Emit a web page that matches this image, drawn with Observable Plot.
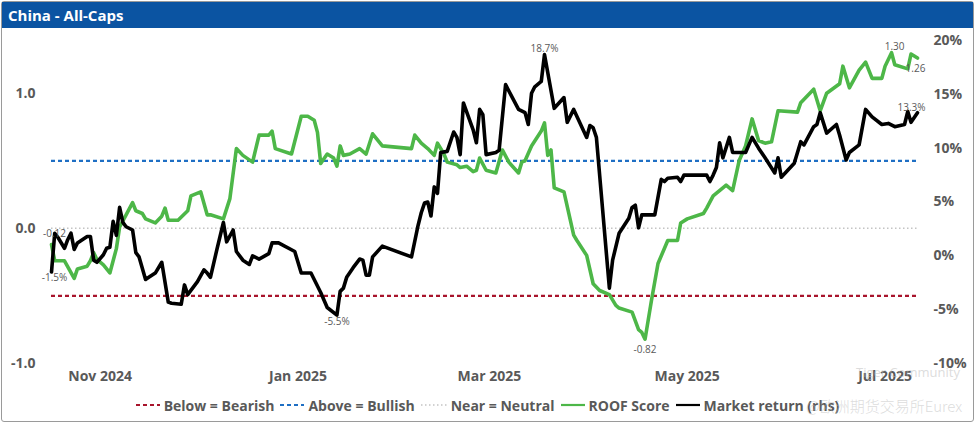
<!DOCTYPE html>
<html>
<head>
<meta charset="utf-8">
<script src="https://cdn.jsdelivr.net/npm/d3@7"></script>
<script src="https://cdn.jsdelivr.net/npm/@observablehq/plot@0.6"></script>
<style>
html,body{margin:0;padding:0;background:#fff;}
body{width:975px;height:424px;position:relative;overflow:hidden;font-family:"Open Sans",sans-serif;}
#frame{position:absolute;left:1px;top:1px;width:973px;height:421px;box-sizing:border-box;border:1.5px solid #9a9a9a;border-radius:3px;}
#title{position:absolute;left:2px;top:2px;width:971px;height:26px;background:#0b54a2;color:#fff;font-weight:700;font-size:15px;line-height:26px;padding-left:6px;box-sizing:border-box;}
#chart{position:absolute;left:0;top:28px;}
#legend{position:absolute;left:0;top:394px;width:975px;height:22px;display:flex;justify-content:center;align-items:center;font-weight:700;font-size:14px;color:#595959;white-space:nowrap;}
#legend .item{display:flex;align-items:center;margin:0 3px;}
#legend svg{margin-right:4px;}
.wm{position:absolute;color:rgba(185,185,185,0.5);white-space:nowrap;}
</style>
</head>
<body>
<div id="frame"></div>
<div id="title">China - All-Caps</div>
<div id="chart"></div>
<div id="legend"></div>
<div class="wm" style="left:856px;top:363px;font-size:13px;">Tiger Community</div>
<div class="wm" style="left:806px;top:395px;font-size:15px;font-family:'Noto Sans CJK SC',sans-serif;font-weight:300;">@欧洲期货交易所Eurex</div>
<script>
// ---- data ----
const roof = [
["2024-10-17",-0.12],["2024-10-18",-0.24],["2024-10-21",-0.24],["2024-10-24",-0.37],["2024-10-25",-0.30],
["2024-10-28",-0.28],["2024-10-29",-0.24],["2024-10-30",-0.18],["2024-10-31",-0.23],["2024-11-02",-0.27],
["2024-11-04",-0.33],["2024-11-06",-0.15],["2024-11-07",0.01],["2024-11-09",0.10],["2024-11-11",0.19],
["2024-11-12",0.13],["2024-11-14",0.11],["2024-11-15",0.07],["2024-11-18",0.04],["2024-11-20",0.09],
["2024-11-21",0.15],["2024-11-22",0.06],["2024-11-25",0.06],["2024-11-28",0.13],["2024-11-29",0.24],
["2024-12-02",0.27],["2024-12-04",0.10],["2024-12-05",0.10],["2024-12-09",0.07],["2024-12-11",0.22],
["2024-12-13",0.59],["2024-12-15",0.54],["2024-12-18",0.49],["2024-12-20",0.69],["2024-12-23",0.69],
["2024-12-24",0.72],["2024-12-25",0.59],["2024-12-30",0.55],["2025-01-02",0.83],["2025-01-04",0.83],
["2025-01-06",0.80],["2025-01-07",0.71],["2025-01-08",0.48],["2025-01-10",0.55],["2025-01-12",0.52],
["2025-01-13",0.46],["2025-01-14",0.61],["2025-01-15",0.54],["2025-01-17",0.55],["2025-01-20",0.59],
["2025-01-22",0.55],["2025-01-24",0.70],["2025-01-27",0.61],["2025-02-05",0.59],["2025-02-06",0.69],
["2025-02-08",0.63],["2025-02-10",0.59],["2025-02-12",0.54],["2025-02-13",0.63],["2025-02-15",0.55],
["2025-02-16",0.49],["2025-02-19",0.47],["2025-02-20",0.45],["2025-02-22",0.46],["2025-02-24",0.42],
["2025-02-25",0.43],["2025-02-26",0.52],["2025-02-28",0.43],["2025-03-03",0.41],["2025-03-05",0.58],
["2025-03-07",0.49],["2025-03-10",0.41],["2025-03-11",0.49],["2025-03-12",0.50],["2025-03-14",0.61],
["2025-03-17",0.72],["2025-03-18",0.78],["2025-03-19",0.54],["2025-03-20",0.58],["2025-03-21",0.30],
["2025-03-24",0.27],["2025-03-27",-0.05],["2025-03-28",-0.09],["2025-03-31",-0.20],["2025-04-02",-0.41],
["2025-04-04",-0.46],["2025-04-07",-0.49],["2025-04-09",-0.57],["2025-04-10",-0.59],["2025-04-14",-0.62],
["2025-04-16",-0.75],["2025-04-17",-0.77],["2025-04-18",-0.82],["2025-04-20",-0.53],["2025-04-22",-0.26],
["2025-04-25",-0.09],["2025-04-28",-0.09],["2025-04-29",0.04],["2025-05-01",0.07],["2025-05-06",0.11],
["2025-05-07",0.15],["2025-05-09",0.24],["2025-05-12",0.30],["2025-05-13",0.32],["2025-05-15",0.28],
["2025-05-17",0.50],["2025-05-19",0.61],["2025-05-21",0.81],["2025-05-23",0.65],["2025-05-25",0.63],
["2025-05-27",0.64],["2025-05-29",0.87],["2025-06-04",0.86],["2025-06-05",0.93],["2025-06-09",1.03],
["2025-06-11",0.87],["2025-06-13",1.00],["2025-06-17",1.07],["2025-06-18",1.20],["2025-06-20",1.04],
["2025-06-23",1.17],["2025-06-25",1.23],["2025-06-27",1.11],["2025-06-30",1.11],["2025-07-01",1.20],
["2025-07-03",1.30],["2025-07-04",1.21],["2025-07-08",1.18],["2025-07-09",1.29],["2025-07-11",1.26]
];

const marketReturn = [
["2024-10-17",-1.5],["2024-10-18",2.1],["2024-10-19",1.7],["2024-10-21",0.7],["2024-10-22",1.5],
["2024-10-23",2.1],["2024-10-24",0.6],["2024-10-25",1.2],["2024-10-28",1.8],["2024-10-29",1.8],
["2024-10-30",-0.4],["2024-10-31",-0.6],["2024-11-02",0.1],["2024-11-03",0.7],["2024-11-04",0.8],
["2024-11-05",3.2],["2024-11-06",1.9],["2024-11-07",4.5],["2024-11-08",3.1],["2024-11-09",2.7],
["2024-11-11",2.4],["2024-11-12",0.3],["2024-11-13",-0.1],["2024-11-15",-2.2],["2024-11-16",-2.0],
["2024-11-18",-1.6],["2024-11-20",-0.6],["2024-11-22",-4.3],["2024-11-23",-4.4],["2024-11-26",-4.5],
["2024-11-27",-2.7],["2024-11-28",-3.6],["2024-12-01",-2.4],["2024-12-03",-1.3],["2024-12-04",-1.6],
["2024-12-05",-2.0],["2024-12-07",0.6],["2024-12-09",3.1],["2024-12-10",1.3],["2024-12-12",2.4],
["2024-12-13",0.4],["2024-12-15",-0.4],["2024-12-17",-0.8],["2024-12-18",0.0],["2024-12-20",-0.3],
["2024-12-23",0.2],["2024-12-24",1.2],["2024-12-26",1.2],["2024-12-31",0.4],["2025-01-02",-1.6],
["2025-01-05",-1.6],["2025-01-08",-3.4],["2025-01-10",-4.8],["2025-01-13",-5.5],["2025-01-14",-3.3],
["2025-01-15",-3.0],["2025-01-16",-2.0],["2025-01-18",-1.1],["2025-01-20",-0.3],["2025-01-21",-0.4],
["2025-01-22",-1.8],["2025-01-23",-1.8],["2025-01-24",-0.1],["2025-01-27",0.9],["2025-02-05",-0.1],
["2025-02-07",2.8],["2025-02-08",4.0],["2025-02-09",4.9],["2025-02-10",5.0],["2025-02-11",3.7],
["2025-02-12",6.4],["2025-02-13",5.8],["2025-02-14",9.6],["2025-02-16",9.7],["2025-02-18",11.5],
["2025-02-19",11.0],["2025-02-20",9.4],["2025-02-21",14.2],["2025-02-24",11.7],["2025-02-25",10.5],
["2025-02-26",13.6],["2025-02-27",13.1],["2025-02-28",9.4],["2025-03-03",9.6],["2025-03-04",9.8],
["2025-03-06",15.9],["2025-03-10",13.6],["2025-03-12",13.3],["2025-03-13",12.2],["2025-03-14",15.1],
["2025-03-15",15.7],["2025-03-17",16.2],["2025-03-18",18.7],["2025-03-21",13.7],["2025-03-24",14.7],
["2025-03-25",12.4],["2025-03-27",13.6],["2025-03-31",11.0],["2025-04-01",12.1],["2025-04-02",11.9],
["2025-04-03",11.0],["2025-04-07",-3.0],["2025-04-08",-0.4],["2025-04-10",2.1],["2025-04-13",3.5],
["2025-04-14",4.5],["2025-04-15",4.7],["2025-04-16",2.6],["2025-04-17",3.8],["2025-04-21",3.8],
["2025-04-23",7.1],["2025-04-24",6.9],["2025-04-25",7.2],["2025-04-28",7.3],["2025-04-29",6.9],
["2025-04-30",7.5],["2025-05-07",7.5],["2025-05-08",6.9],["2025-05-09",7.5],["2025-05-10",8.2],
["2025-05-11",10.5],["2025-05-12",9.1],["2025-05-14",11.0],["2025-05-15",9.6],["2025-05-19",9.6],
["2025-05-21",11.0],["2025-05-23",10.0],["2025-05-25",9.1],["2025-05-28",7.7],["2025-05-29",9.1],
["2025-05-30",7.3],["2025-06-03",8.6],["2025-06-05",10.6],["2025-06-06",10.3],["2025-06-09",12.0],
["2025-06-10",12.2],["2025-06-11",13.3],["2025-06-13",11.4],["2025-06-16",12.2],["2025-06-17",11.2],
["2025-06-19",8.9],["2025-06-20",9.6],["2025-06-23",10.3],["2025-06-25",13.6],["2025-06-27",12.9],
["2025-06-30",12.2],["2025-07-02",12.3],["2025-07-04",12.0],["2025-07-07",12.2],["2025-07-08",13.4],
["2025-07-09",12.4],["2025-07-11",13.3]
];

const thresholds = [
  {value: -0.5, name: "Below = Bearish"},
  {value: 0.5, name: "Above = Bullish"},
  {value: 0, name: "Near = Neutral"}
];
const monthTicks = ["2024-11-01","2025-01-01","2025-03-01","2025-05-01","2025-07-01"];
const scoreTicks = [-1, 0, 1];
const returnTicks = [-10, -5, 0, 5, 10, 15, 20];
const scoreDomain = [-1, 1.39];
const returnDomain = [-10, 20];

// ---- styling ----
const C = {
  bear: "#a8142c", bull: "#1f6fc4", neutral: "#c4c4c4",
  roof: "#4db748", ret: "#000000", text: "#595959"
};
const styleOf = {
  "Below = Bearish": {stroke: C.bear, dash: "4,3", width: 2.2},
  "Above = Bullish": {stroke: C.bull, dash: "4,3", width: 2.2},
  "Near = Neutral": {stroke: C.neutral, dash: "1.5,2.5", width: 1.5}
};

// ---- build ----
const parse = d3.utcParse("%Y-%m-%d");
const toScore = r => scoreDomain[0] + (r - returnDomain[0]) / (returnDomain[1] - returnDomain[0]) * (scoreDomain[1] - scoreDomain[0]);
const fromScore = s => returnDomain[0] + (s - scoreDomain[0]) / (scoreDomain[1] - scoreDomain[0]) * (returnDomain[1] - returnDomain[0]);

const roofData = roof.map(([d, v]) => ({date: parse(d), value: v}));
const retData = marketReturn.map(([d, v]) => ({date: parse(d), value: v, score: toScore(v)}));

const fmtScore = v => v.toFixed(2);
const fmtRet = v => v.toFixed(1) + "%";

const roofFirst = roofData[0], roofLast = roofData[roofData.length - 1];
const roofMin = d3.least(roofData, d => d.value), roofMax = d3.greatest(roofData, d => d.value);
const retFirst = retData[0], retLast = retData[retData.length - 1];
const retMin = d3.least(retData, d => d.value), retMax = d3.greatest(retData, d => d.value);

const labelOpts = {fontSize: 10, fontWeight: "normal", fill: C.text};

const chart = Plot.plot({
  width: 975,
  height: 365,
  marginTop: 12,
  marginBottom: 30,
  marginLeft: 51,
  marginRight: 58,
  style: {fontFamily: "'Open Sans', sans-serif", fontSize: "14px", fontWeight: "bold", color: C.text, background: "transparent", overflow: "visible"},
  x: {type: "utc", domain: d3.extent(roofData, d => d.date)},
  y: {domain: scoreDomain},
  marks: [
    ...thresholds.map(t => Plot.ruleY([t.value], {stroke: styleOf[t.name].stroke, strokeWidth: styleOf[t.name].width, strokeDasharray: styleOf[t.name].dash})),
    Plot.line(roofData, {x: "date", y: "value", stroke: C.roof, strokeWidth: 3.6, strokeLinejoin: "round"}),
    Plot.line(retData, {x: "date", y: "score", stroke: C.ret, strokeWidth: 3.6, strokeLinejoin: "round"}),
    Plot.axisX(monthTicks.map(parse), {tickFormat: d3.utcFormat("%b %Y"), tickSize: 0, tickPadding: 8, fontSize: 14, fontWeight: "bold", label: null}),
    Plot.axisY(scoreTicks, {anchor: "left", tickSize: 0, tickPadding: 16, tickFormat: d => d.toFixed(1), fontSize: 14, fontWeight: "bold", label: null}),
    Plot.axisY(returnTicks.map(toScore), {anchor: "right", tickSize: 0, tickPadding: 16, tickFormat: s => Math.round(fromScore(s)) + "%", fontSize: 14, fontWeight: "bold", label: null}),
    Plot.text([roofFirst], {x: "date", y: "value", text: d => fmtScore(d.value), dx: 3, dy: -11, ...labelOpts}),
    Plot.text([roofMin], {x: "date", y: "value", text: d => fmtScore(d.value), dy: 11, ...labelOpts}),
    Plot.text([roofMax], {x: "date", y: "value", text: d => fmtScore(d.value), dx: 3, dy: -6, ...labelOpts}),
    Plot.text([roofLast], {x: "date", y: "value", text: d => fmtScore(d.value), dx: -2, dy: 11, ...labelOpts}),
    Plot.text([retFirst], {x: "date", y: "score", text: d => fmtRet(d.value), dx: 3, dy: 6, ...labelOpts}),
    Plot.text([retMin], {x: "date", y: "score", text: d => fmtRet(d.value), dy: 7, ...labelOpts}),
    Plot.text([retMax], {x: "date", y: "score", text: d => fmtRet(d.value), dy: -6, ...labelOpts}),
    Plot.text([retLast], {x: "date", y: "score", text: d => fmtRet(d.value), dx: -6, dy: -5, ...labelOpts})
  ]
});
document.getElementById("chart").appendChild(chart);

// ---- legend ----
const legendItems = [
  ...thresholds.map(t => ({name: t.name, ...styleOf[t.name]})),
  {name: "ROOF Score", stroke: C.roof, dash: null, width: 2.2},
  {name: "Market return (rhs)", stroke: C.ret, dash: null, width: 2.2}
];
const legend = d3.select("#legend");
legendItems.forEach(it => {
  const item = legend.append("div").attr("class", "item");
  const w = it.name === "Near = Neutral" ? 26 : 24;
  const svg = item.append("svg").attr("width", w).attr("height", 10);
  svg.append("line").attr("x1", 0).attr("x2", w).attr("y1", 5).attr("y2", 5)
    .attr("stroke", it.stroke).attr("stroke-width", it.width)
    .attr("stroke-dasharray", it.dash);
  item.append("span").text(it.name);
});
</script>
</body>
</html>
